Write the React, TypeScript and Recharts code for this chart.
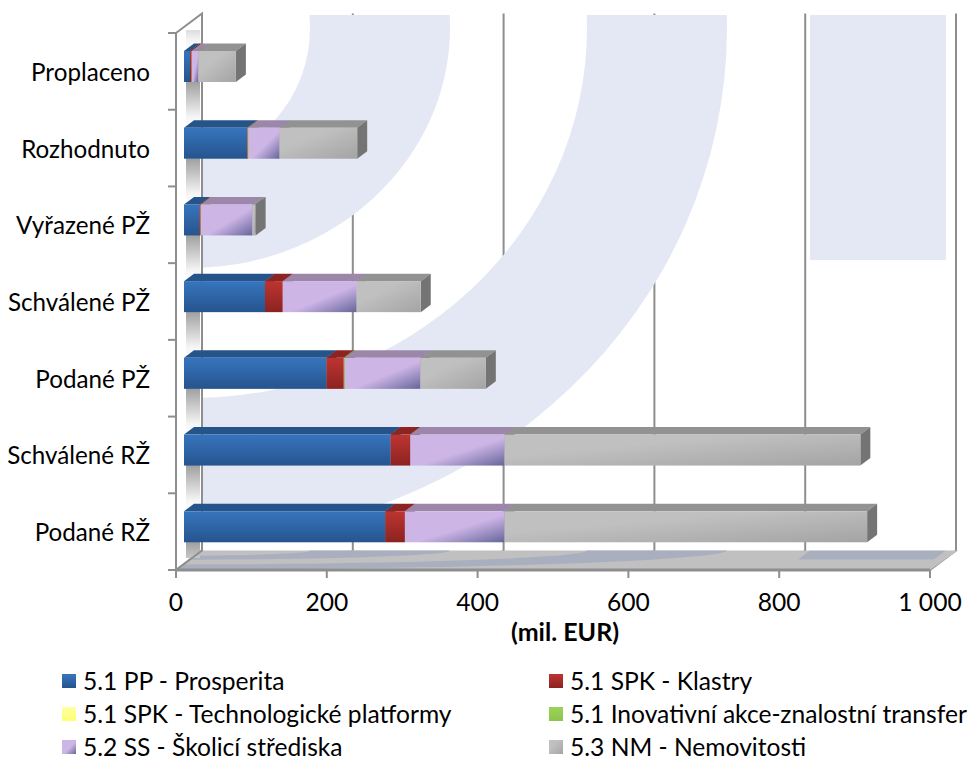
import React from 'react';
import { BarChart, Bar, XAxis, YAxis, CartesianGrid, Legend, Label } from 'recharts';

const categories = ['Proplaceno', 'Rozhodnuto', 'Vyřazené PŽ', 'Schválené PŽ', 'Podané PŽ', 'Schválené RŽ', 'Podané RŽ'];
const prosperita = [8, 84, 20.5, 107.5, 189, 274, 267];
const klastry = [2, 0.5, 1.5, 23.5, 23, 26, 26];
const platformy = [0.3, 1.2, 0.5, 0, 0.3, 0, 0];
const inovativni = [0, 0, 0, 0, 1, 0, 0];
const skolici = [8.5, 41, 68, 98, 100, 125, 132];
const nemovitosti = [50, 103, 4.5, 85, 87, 472, 481];
const xTicks = [0, 200, 400, 600, 800, 1000];

const seriesList = [
  { key: 'pp', name: '5.1 PP - Prosperita', values: prosperita, front: 'url(#gBlue)', top: '#25548a', side: '#1f4674', swatch: 'url(#gBlue)' },
  { key: 'kl', name: '5.1 SPK - Klastry', values: klastry, front: 'url(#gRed)', top: '#8c2522', side: '#6f1d1b', swatch: 'url(#gRed)' },
  { key: 'tp', name: '5.1 SPK - Technologické platformy', values: platformy, front: 'url(#gYellow)', top: '#b9b961', side: '#a0a050', swatch: 'url(#gYellow)' },
  { key: 'ia', name: '5.1 Inovativní akce-znalostní transfer', values: inovativni, front: 'url(#gGreen)', top: '#6f9c3e', side: '#5c8433', swatch: 'url(#gGreen)' },
  { key: 'ss', name: '5.2 SS - Školicí střediska', values: skolici, front: 'url(#gPurple)', top: '#9c87ab', side: '#7d6b8e', swatch: 'url(#gPurple)' },
  { key: 'nm', name: '5.3 NM - Nemovitosti', values: nemovitosti, front: 'url(#gGray)', top: '#929292', side: '#747474', swatch: 'url(#gGray)' },
];

const data = categories.map((category, i) => {
  const row: Record<string, string | number> = { category };
  seriesList.forEach((s) => { row[s.key] = s.values[i]; });
  return row;
});

const FONT = 'Lato, "Open Sans", sans-serif';
const FONT_SIZE = 24.6;
const CATEGORY_FONT_SIZE = 24.2;
const AXIS = '#8e8e8e';
const PLOT_TOP = 33;
const PLOT_BOTTOM = 570;
const BAND = (PLOT_BOTTOM - PLOT_TOP) / categories.length;
const WALL_DX = 26;
const WALL_DY = 19.5;
const BAR_DX = 8;
const BAR_DY = -5;
const DEPTH_X = 10;
const DEPTH_Y = 7.5;

const ring = (cx: number, cy: number, r1x: number, r1y: number, r2x: number, r2y: number) => {
  const e = (rx: number, ry: number) => `M${cx - rx},${cy}a${rx},${ry} 0 1,0 ${2 * rx},0a${rx},${ry} 0 1,0 ${-2 * rx},0Z`;
  return e(r1x, r1y) + e(r2x, r2y);
};

const Art = ({ fill }: { fill: string }) => (
  <g clipPath="url(#artClip)" fill={fill}>
    <path fillRule="evenodd" d={ring(190, 28, 120, 130, 260, 240)} />
    <path fillRule="evenodd" d={ring(190, 28, 397, 370, 537, 510)} />
    <rect x={810} y={15} width={136} height={245} />
  </g>
);

const Backdrop = () => {
  const c = -WALL_DX / 536;
  const d = WALL_DY / 536;
  return (
    <g>
      <Art fill="#e4e8f5" />
      <path d="M176,570L202,550.5L958,550.5L930,570Z" fill="#c0c0c0" />
      <g transform={`matrix(1 0 ${c} ${d} ${-15 * c} ${550.5 - 15 * d})`}>
        <Art fill="#a9afbf" />
      </g>
      <rect x={186} y={30} width={14} height={528} fill="url(#gWall)" />
      <path d={`M176,33L202,13.5V550.5L176,570`} fill="none" stroke={AXIS} strokeWidth={2} />
    </g>
  );
};

const gridLine = (p: any) => (
  <path
    key={p.key ?? p.x1}
    d={`M${p.x1},${p.y2}L${p.x1 + WALL_DX},${p.y2 - WALL_DY}V${p.y1 - WALL_DY}`}
    fill="none"
    stroke={AXIS}
    strokeWidth={2}
  />
);

const Box3D = (props: any) => {
  const { x, y, width, height, spec } = props;
  if (!(width > 0.05)) return <g />;
  const fx = x + BAR_DX;
  const fy = y + BAR_DY;
  return (
    <g>
      <path d={`M${fx},${fy}L${fx + DEPTH_X},${fy - DEPTH_Y}H${fx + width + DEPTH_X}L${fx + width},${fy}Z`} fill={spec.top} />
      <path d={`M${fx + width},${fy}L${fx + width + DEPTH_X},${fy - DEPTH_Y}V${fy + height - DEPTH_Y}L${fx + width},${fy + height}Z`} fill={spec.side} />
      <rect x={fx} y={fy} width={width} height={height} fill={spec.front} />
    </g>
  );
};

const CategoryTick = (props: any) => {
  const { x, y, payload, index } = props;
  const last = index === categories.length - 1;
  return (
    <g>
      <line x1={168} x2={176} y1={y - BAND / 2} y2={y - BAND / 2} stroke={AXIS} strokeWidth={2} />
      {last && <line x1={168} x2={176} y1={y + BAND / 2} y2={y + BAND / 2} stroke={AXIS} strokeWidth={2} />}
      <text x={x} y={y} dy={9.5} textAnchor="end" fontFamily={FONT} fontSize={CATEGORY_FONT_SIZE} fill="#000">{payload.value}</text>
    </g>
  );
};

const LegendBox = () => (
  <div style={{ display: 'grid', gridTemplateColumns: '487px 420px', gridAutoRows: '33px', fontFamily: FONT, fontSize: FONT_SIZE, color: '#000', lineHeight: '20px' }}>
    {seriesList.map((s) => (
      <div key={s.key} style={{ display: 'flex', alignItems: 'center', whiteSpace: 'nowrap' }}>
        <svg width={14} height={14} style={{ marginRight: 7, flex: 'none' }}>
          <rect width={14} height={14} fill={s.swatch} />
        </svg>
        <div style={{ height: 20, lineHeight: '20px' }}>{s.name}</div>
      </div>
    ))}
  </div>
);

export default function App() {
  return (
    <div style={{ position: 'absolute', left: 0, top: 0, width: 971, height: 762, background: '#fff', overflow: 'hidden' }}>
      <BarChart
        width={971}
        height={762}
        data={data}
        layout="vertical"
        barSize={31}
        margin={{ top: PLOT_TOP, right: 41, bottom: 0, left: 0 }}
      >
        <defs>
          <linearGradient id="gBlue" x1="0" y1="0" x2="0" y2="1">
            <stop offset="0.1" stopColor="#3572b9" />
            <stop offset="1" stopColor="#26548e" />
          </linearGradient>
          <linearGradient id="gRed" x1="0" y1="0" x2="0" y2="1">
            <stop offset="0.1" stopColor="#b9332f" />
            <stop offset="1" stopColor="#8b2321" />
          </linearGradient>
          <linearGradient id="gYellow" x1="0" y1="0" x2="0" y2="1">
            <stop offset="0" stopColor="#ffffa8" />
            <stop offset="1" stopColor="#ffff70" />
          </linearGradient>
          <linearGradient id="gGreen" x1="0" y1="0" x2="0" y2="1">
            <stop offset="0" stopColor="#9bd259" />
            <stop offset="1" stopColor="#8dc44c" />
          </linearGradient>
          <linearGradient id="gPurple" x1="0" y1="0" x2="1" y2="1">
            <stop offset="0.55" stopColor="#cdb5e6" />
            <stop offset="1" stopColor="#66659a" />
          </linearGradient>
          <linearGradient id="gGray" x1="0" y1="0" x2="1" y2="1">
            <stop offset="0.35" stopColor="#c0c0c0" />
            <stop offset="1" stopColor="#a4a4a4" />
          </linearGradient>
          <linearGradient id="gWall" gradientUnits="userSpaceOnUse" x1="0" y1="82" x2="0" y2="158.7" spreadMethod="repeat">
            <stop offset="0" stopColor="#a0a0a0" />
            <stop offset="0.45" stopColor="#f4f4f4" />
            <stop offset="0.6" stopColor="#ffffff" />
            <stop offset="1" stopColor="#c0c0c0" />
          </linearGradient>
          <clipPath id="artClip">
            <rect x={202} y={15} width={744} height={536} />
          </clipPath>
        </defs>
        <Backdrop />
        <CartesianGrid horizontal={false} vertical={gridLine} />
        <XAxis
          type="number"
          domain={[0, 1000]}
          ticks={xTicks}
          interval={0}
          height={192}
          axisLine={{ stroke: AXIS, strokeWidth: 3 }}
          tickLine={{ stroke: AXIS, strokeWidth: 2 }}
          tickSize={8}
          tickMargin={16}
          tick={{ fontFamily: FONT, fontSize: FONT_SIZE, fill: '#000' }}
          tickFormatter={(v: number) => (v === 1000 ? '1 000' : String(v))}
        >
          <Label value="(mil. EUR)" position="insideTop" dx={12} dy={48} style={{ fontFamily: FONT, fontSize: 25, fontWeight: 700, fill: '#000' }} />
        </XAxis>
        <YAxis
          type="category"
          dataKey="category"
          width={176}
          interval={0}
          axisLine={{ stroke: AXIS, strokeWidth: 2 }}
          tickLine={false}
          tickMargin={0}
          tick={(p: any) => <CategoryTick {...p} x={150} />}
        />
        <Legend
          layout="horizontal"
          verticalAlign="middle"
          align="center"
          content={<LegendBox />}
          wrapperStyle={{ position: 'absolute', left: 62, top: 664, width: 909, height: 97 }}
        />
        {seriesList.map((s) => (
          <Bar
            key={s.key}
            dataKey={s.key}
            name={s.name}
            stackId="a"
            isAnimationActive={false}
            shape={(p: any) => <Box3D {...p} spec={s} />}
          />
        ))}
      </BarChart>
    </div>
  );
}
